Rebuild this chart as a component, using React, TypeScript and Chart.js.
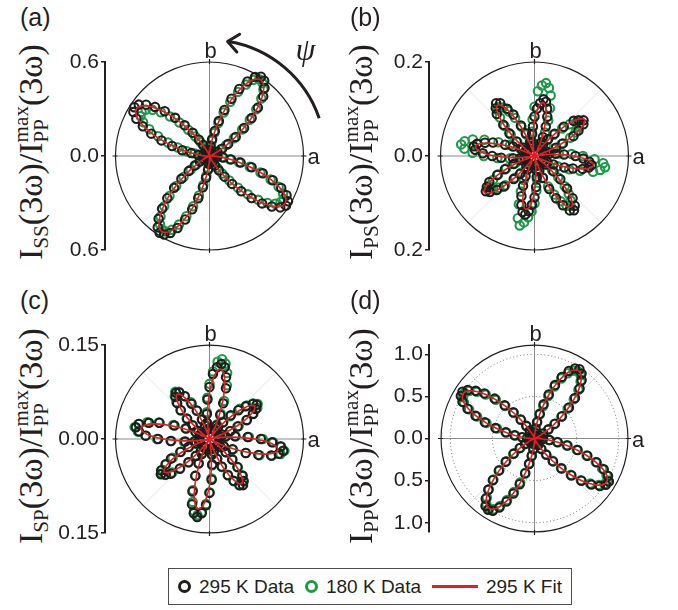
import React, { useEffect, useRef } from "react";
import { Chart, registerables } from "chart.js";
Chart.register(...registerables);

const INK = "#231f20";
const RED = "#e41e26";
const GREEN = "#1b9a48";
const BLACK = "#1d1d1b";
const SANS = '"Liberation Sans", Arial, Helvetica, sans-serif';
const SERIF = '"Liberation Serif", "Times New Roman", serif';

// polar angle psi in degrees, measured from a toward b
const ANGLES = [0,3,6,9,12,15,18,21,24,27,30,33,36,39,42,45,48,51,54,57,60,63,66,69,72,75,78,81,84,87,90,93,96,99,102,105,108,111,114,117,120,123,126,129,132,135,138,141,144,147,150,153,156,159,162,165,168,171,174,177,180,183,186,189,192,195,198,201,204,207,210,213,216,219,222,225,228,231,234,237,240,243,246,249,252,255,258,261,264,267,270,273,276,279,282,285,288,291,294,297,300,303,306,309,312,315,318,321,324,327,330,333,336,339,342,345,348,351,354,357];

// (a) I_SS
const FIT_SS = [0.021,0.008,0.002,0,0,0,0.002,0.008,0.022,0.046,0.084,0.136,0.201,0.276,0.356,0.432,0.499,0.550,0.579,0.584,0.563,0.519,0.456,0.382,0.303,0.226,0.157,0.100,0.057,0.028,0.012,0.003,0.001,0,0,0,0.001,0.005,0.015,0.035,0.066,0.111,0.169,0.238,0.312,0.387,0.454,0.508,0.543,0.555,0.543,0.508,0.454,0.387,0.312,0.238,0.169,0.111,0.066,0.035,0.015,0.005,0.001,0,0,0,0.001,0.003,0.011,0.028,0.056,0.097,0.153,0.220,0.295,0.372,0.444,0.505,0.548,0.569,0.564,0.536,0.487,0.421,0.346,0.269,0.196,0.133,0.082,0.045,0.021,0.008,0.002,0,0,0,0.001,0.003,0.011,0.028,0.056,0.097,0.153,0.220,0.295,0.372,0.444,0.505,0.548,0.569,0.564,0.536,0.487,0.421,0.346,0.269,0.196,0.133,0.082,0.045];
const D295_SS = [0.028,0.017,0.012,0.008,0.010,0.006,0.011,0.018,0.031,0.058,0.093,0.142,0.207,0.284,0.362,0.437,0.512,0.558,0.594,0.603,0.582,0.534,0.468,0.392,0.309,0.231,0.163,0.108,0.066,0.038,0.019,0.012,0.007,0.009,0.006,0.010,0.008,0.014,0.026,0.047,0.081,0.124,0.183,0.252,0.328,0.404,0.468,0.521,0.558,0.572,0.561,0.524,0.466,0.398,0.322,0.247,0.178,0.118,0.072,0.041,0.022,0.011,0.008,0.006,0.009,0.007,0.010,0.013,0.022,0.041,0.071,0.112,0.164,0.231,0.304,0.381,0.452,0.516,0.562,0.584,0.579,0.551,0.503,0.434,0.358,0.279,0.204,0.141,0.089,0.052,0.028,0.014,0.009,0.007,0.010,0.006,0.009,0.012,0.021,0.042,0.070,0.109,0.163,0.229,0.303,0.380,0.452,0.512,0.558,0.582,0.579,0.552,0.501,0.432,0.357,0.278,0.203,0.139,0.088,0.051];
const D180_SS = [0.022,0.013,0.006,0.004,0.007,0.009,0.006,0.012,0.024,0.049,0.082,0.128,0.193,0.268,0.346,0.422,0.494,0.547,0.576,0.584,0.561,0.512,0.448,0.371,0.292,0.218,0.151,0.098,0.058,0.031,0.014,0.008,0.005,0.007,0.009,0.006,0.008,0.011,0.019,0.036,0.066,0.104,0.154,0.216,0.287,0.356,0.418,0.468,0.503,0.517,0.508,0.476,0.421,0.352,0.279,0.210,0.148,0.097,0.058,0.031,0.014,0.008,0.004,0.006,0.008,0.007,0.006,0.009,0.016,0.032,0.059,0.098,0.149,0.213,0.286,0.361,0.432,0.497,0.538,0.558,0.556,0.528,0.479,0.412,0.338,0.261,0.189,0.128,0.080,0.043,0.021,0.010,0.006,0.004,0.007,0.008,0.006,0.010,0.015,0.031,0.054,0.089,0.139,0.201,0.272,0.346,0.418,0.476,0.518,0.541,0.546,0.527,0.483,0.418,0.342,0.266,0.192,0.130,0.082,0.045];

// (b) I_PS
const FIT_PS = [0.083,0.057,0.032,0.012,0.001,0.001,0.013,0.033,0.059,0.086,0.110,0.126,0.132,0.126,0.110,0.086,0.059,0.033,0.013,0.001,0.001,0.011,0.029,0.051,0.075,0.096,0.110,0.115,0.110,0.096,0.075,0.051,0.029,0.011,0.001,0.001,0.013,0.034,0.060,0.088,0.112,0.128,0.134,0.128,0.112,0.088,0.060,0.034,0.013,0.001,0.001,0.012,0.032,0.057,0.083,0.106,0.122,0.127,0.122,0.106,0.083,0.057,0.032,0.012,0.001,0.001,0.013,0.033,0.059,0.086,0.110,0.126,0.132,0.126,0.110,0.086,0.059,0.033,0.013,0.001,0.001,0.011,0.029,0.051,0.075,0.096,0.110,0.115,0.110,0.096,0.075,0.051,0.029,0.011,0.001,0.001,0.013,0.034,0.060,0.088,0.112,0.128,0.134,0.128,0.112,0.088,0.060,0.034,0.013,0.001,0.001,0.012,0.032,0.057,0.083,0.106,0.122,0.127,0.122,0.106];
const D295_PS = [0.087,0.063,0.045,0.031,0.022,0.019,0.028,0.049,0.066,0.093,0.108,0.124,0.129,0.121,0.112,0.088,0.064,0.046,0.031,0.022,0.021,0.032,0.044,0.067,0.088,0.104,0.118,0.122,0.113,0.101,0.084,0.063,0.047,0.029,0.020,0.023,0.031,0.052,0.071,0.099,0.116,0.134,0.139,0.131,0.120,0.094,0.072,0.049,0.030,0.021,0.019,0.030,0.050,0.067,0.093,0.109,0.125,0.131,0.127,0.110,0.090,0.071,0.046,0.031,0.020,0.022,0.030,0.048,0.069,0.089,0.111,0.121,0.128,0.122,0.108,0.092,0.066,0.049,0.029,0.021,0.022,0.031,0.047,0.068,0.090,0.108,0.122,0.126,0.118,0.104,0.088,0.066,0.045,0.031,0.020,0.021,0.033,0.050,0.077,0.101,0.121,0.138,0.143,0.136,0.121,0.098,0.074,0.052,0.031,0.022,0.020,0.030,0.044,0.068,0.086,0.106,0.118,0.123,0.117,0.104];
const D180_PS = [0.103,0.079,0.052,0.032,0.021,0.020,0.029,0.043,0.063,0.085,0.101,0.113,0.119,0.116,0.101,0.083,0.061,0.043,0.028,0.019,0.021,0.034,0.055,0.081,0.107,0.133,0.148,0.157,0.151,0.138,0.105,0.078,0.052,0.031,0.020,0.019,0.031,0.049,0.068,0.091,0.110,0.123,0.129,0.126,0.110,0.090,0.068,0.047,0.030,0.021,0.022,0.034,0.057,0.082,0.112,0.136,0.152,0.158,0.150,0.132,0.108,0.079,0.053,0.031,0.021,0.020,0.028,0.044,0.066,0.087,0.102,0.116,0.121,0.113,0.101,0.088,0.062,0.046,0.029,0.020,0.021,0.033,0.056,0.081,0.108,0.137,0.151,0.143,0.131,0.118,0.101,0.074,0.051,0.032,0.021,0.019,0.029,0.049,0.071,0.092,0.111,0.126,0.131,0.122,0.109,0.091,0.068,0.048,0.030,0.021,0.020,0.032,0.054,0.079,0.102,0.129,0.143,0.152,0.147,0.128];

// (c) I_SP
const FIT_SP = [0.073,0.050,0.028,0.011,0.001,0.001,0.009,0.022,0.040,0.058,0.074,0.085,0.089,0.085,0.074,0.058,0.040,0.022,0.009,0.001,0.001,0.011,0.028,0.051,0.074,0.094,0.108,0.113,0.108,0.094,0.074,0.051,0.028,0.011,0.001,0.001,0.008,0.022,0.039,0.058,0.073,0.084,0.088,0.084,0.073,0.058,0.039,0.022,0.008,0.001,0.001,0.011,0.028,0.050,0.073,0.093,0.106,0.111,0.106,0.093,0.073,0.050,0.028,0.011,0.001,0.001,0.009,0.022,0.040,0.058,0.074,0.085,0.089,0.085,0.074,0.058,0.040,0.022,0.009,0.001,0.001,0.011,0.028,0.051,0.074,0.094,0.108,0.113,0.108,0.094,0.074,0.051,0.028,0.011,0.001,0.001,0.008,0.022,0.039,0.058,0.073,0.084,0.088,0.084,0.073,0.058,0.039,0.022,0.008,0.001,0.001,0.011,0.028,0.050,0.073,0.093,0.106,0.111,0.106,0.093];
const D295_SP = [0.082,0.061,0.041,0.026,0.017,0.015,0.022,0.035,0.049,0.067,0.080,0.088,0.093,0.089,0.078,0.065,0.051,0.034,0.023,0.016,0.017,0.024,0.042,0.061,0.085,0.102,0.117,0.121,0.115,0.104,0.083,0.063,0.040,0.026,0.016,0.015,0.023,0.033,0.050,0.063,0.079,0.088,0.091,0.086,0.077,0.065,0.048,0.035,0.022,0.016,0.015,0.025,0.041,0.060,0.084,0.100,0.115,0.119,0.113,0.102,0.082,0.062,0.039,0.024,0.016,0.017,0.023,0.036,0.051,0.069,0.081,0.092,0.096,0.090,0.083,0.067,0.050,0.035,0.023,0.015,0.016,0.027,0.043,0.063,0.088,0.108,0.121,0.126,0.119,0.106,0.086,0.065,0.041,0.025,0.016,0.015,0.021,0.034,0.048,0.065,0.077,0.088,0.091,0.086,0.079,0.063,0.049,0.033,0.022,0.016,0.016,0.026,0.040,0.062,0.082,0.102,0.113,0.119,0.114,0.100];
const D180_SP = [0.085,0.063,0.042,0.025,0.016,0.017,0.022,0.036,0.051,0.066,0.081,0.091,0.095,0.090,0.080,0.068,0.049,0.035,0.021,0.016,0.016,0.026,0.044,0.065,0.090,0.109,0.123,0.129,0.124,0.108,0.088,0.066,0.043,0.026,0.016,0.016,0.022,0.034,0.049,0.066,0.079,0.090,0.093,0.088,0.079,0.065,0.049,0.034,0.022,0.015,0.016,0.025,0.042,0.062,0.085,0.103,0.116,0.121,0.115,0.102,0.084,0.061,0.041,0.025,0.017,0.016,0.022,0.035,0.050,0.066,0.080,0.090,0.094,0.091,0.080,0.066,0.050,0.034,0.022,0.016,0.016,0.025,0.042,0.063,0.086,0.104,0.118,0.123,0.117,0.104,0.085,0.063,0.042,0.025,0.016,0.016,0.022,0.034,0.049,0.064,0.078,0.087,0.090,0.087,0.078,0.064,0.049,0.034,0.022,0.016,0.016,0.025,0.041,0.062,0.084,0.103,0.116,0.121,0.115,0.102];

// (d) I_PP
const FIT_PP = [0.049,0.020,0.006,0.001,0,0,0.002,0.009,0.026,0.060,0.115,0.192,0.293,0.411,0.540,0.669,0.785,0.879,0.939,0.960,0.939,0.879,0.785,0.669,0.540,0.411,0.293,0.192,0.115,0.060,0.026,0.009,0.002,0,0,0,0.001,0.006,0.020,0.049,0.098,0.171,0.268,0.386,0.517,0.653,0.780,0.886,0.962,0.998,0.990,0.941,0.854,0.739,0.608,0.472,0.344,0.233,0.144,0.079,0.037,0.014,0.003,0,0,0,0.002,0.009,0.027,0.062,0.118,0.198,0.302,0.424,0.557,0.689,0.810,0.906,0.969,0.990,0.969,0.906,0.810,0.689,0.557,0.424,0.302,0.198,0.118,0.062,0.027,0.009,0.002,0,0,0,0,0.003,0.014,0.037,0.079,0.144,0.233,0.344,0.472,0.608,0.739,0.854,0.941,0.990,0.998,0.962,0.886,0.780,0.653,0.517,0.386,0.268,0.171,0.098];
const D295_PP = [0.06,0.03,0.02,0.02,0.02,0.02,0.02,0.02,0.04,0.07,0.12,0.20,0.30,0.42,0.55,0.68,0.80,0.89,0.95,0.98,0.96,0.90,0.80,0.68,0.55,0.42,0.30,0.20,0.12,0.07,0.04,0.02,0.02,0.02,0.02,0.02,0.02,0.02,0.03,0.06,0.11,0.18,0.28,0.40,0.53,0.67,0.80,0.90,0.98,1.02,1.01,0.96,0.87,0.75,0.62,0.48,0.35,0.24,0.15,0.09,0.05,0.03,0.02,0.02,0.02,0.02,0.02,0.02,0.04,0.07,0.13,0.21,0.31,0.44,0.57,0.70,0.82,0.92,0.99,1.01,0.99,0.92,0.82,0.70,0.57,0.43,0.31,0.21,0.13,0.07,0.04,0.02,0.02,0.02,0.02,0.02,0.02,0.02,0.03,0.05,0.09,0.15,0.24,0.35,0.48,0.62,0.75,0.87,0.96,1.01,1.02,0.98,0.90,0.79,0.66,0.53,0.40,0.28,0.18,0.10];
const D180_PP = [0.05,0.02,0.01,0.01,0.01,0.01,0.01,0.02,0.03,0.06,0.11,0.19,0.29,0.41,0.53,0.66,0.78,0.87,0.93,0.95,0.93,0.87,0.78,0.66,0.53,0.40,0.29,0.19,0.11,0.06,0.03,0.01,0.01,0.01,0.01,0.01,0.01,0.01,0.02,0.05,0.10,0.17,0.27,0.39,0.52,0.65,0.78,0.88,0.96,0.99,0.98,0.94,0.85,0.73,0.60,0.46,0.34,0.23,0.14,0.08,0.04,0.02,0.01,0.01,0.01,0.01,0.01,0.01,0.03,0.06,0.12,0.20,0.30,0.43,0.56,0.69,0.81,0.90,0.97,0.99,0.97,0.90,0.80,0.68,0.55,0.42,0.30,0.20,0.12,0.06,0.03,0.01,0.01,0.01,0.01,0.01,0.01,0.01,0.02,0.04,0.08,0.14,0.23,0.34,0.47,0.61,0.74,0.85,0.94,0.99,1.00,0.96,0.88,0.78,0.65,0.52,0.39,0.27,0.17,0.10];

const TICKS_SS = [-0.6, 0, 0.6];
const TICKS_PS = [-0.2, 0, 0.2];
const TICKS_SP = [-0.15, 0, 0.15];
const TICKS_PP = [-1, -0.5, 0, 0.5, 1];

const D = Math.PI / 180;

function polar(r: number[], close: boolean) {
  const pts = r.map((v, i) => ({ x: v * Math.cos(ANGLES[i] * D), y: v * Math.sin(ANGLES[i] * D) }));
  if (close) pts.push({ ...pts[0] });
  return pts;
}

type Cfg = {
  id: string; label: string; sub: string;
  left: number; top: number; w: number; h: number;
  yAxisW: number; padTop: number; padBottom: number; padRight: number;
  yMax: number; xMax: number; ticks: number[]; dec: number; outer: number; dotted: number[];
  fit: number[]; d295: number[]; d180: number[]; arrow: boolean;
  titleX: number; titleY: number; labelX: number; labelY: number;
};

const PANELS: Cfg[] = [
  { id: "a", label: "(a)", sub: "SS", left: 40, top: 30, w: 300, h: 240, yAxisW: 65, padTop: 32, padBottom: 20, padRight: 26,
    yMax: 0.6, xMax: 0.667, ticks: TICKS_SS, dec: 1, outer: 0.6, dotted: [], fit: FIT_SS, d295: D295_SS, d180: D180_SS, arrow: true,
    titleX: 32, titleY: 152, labelX: 20, labelY: 5 },
  { id: "b", label: "(b)", sub: "PS", left: 364, top: 30, w: 300, h: 240, yAxisW: 65, padTop: 32, padBottom: 20, padRight: 24,
    yMax: 0.2, xMax: 0.2245, ticks: TICKS_PS, dec: 1, outer: 0.2, dotted: [], fit: FIT_PS, d295: D295_PS, d180: D180_PS, arrow: false,
    titleX: 362, titleY: 152, labelX: 350, labelY: 5 },
  { id: "c", label: "(c)", sub: "SP", left: 40, top: 313, w: 300, h: 240, yAxisW: 65, padTop: 32, padBottom: 20, padRight: 26,
    yMax: 0.15, xMax: 0.1668, ticks: TICKS_SP, dec: 2, outer: 0.15, dotted: [], fit: FIT_SP, d295: D295_SP, d180: D180_SP, arrow: false,
    titleX: 32, titleY: 436, labelX: 20, labelY: 288 },
  { id: "d", label: "(d)", sub: "PP", left: 364, top: 313, w: 300, h: 240, yAxisW: 65, padTop: 32, padBottom: 21, padRight: 24,
    yMax: 1.11, xMax: 1.253, ticks: TICKS_PP, dec: 1, outer: 1.11, dotted: [0.5, 1.0], fit: FIT_PP, d295: D295_PP, d180: D180_PP, arrow: false,
    titleX: 362, titleY: 436, labelX: 350, labelY: 288 },
];

function Panel({ cfg }: { cfg: Cfg }) {
  const ref = useRef<HTMLCanvasElement>(null);
  useEffect(() => {
    const decor = {
      id: "decor" + cfg.id,
      beforeDatasetsDraw(chart: any) {
        const { ctx, scales } = chart;
        const x = scales.x, y = scales.y;
        const cx = x.getPixelForValue(0), cy = y.getPixelForValue(0);
        const R = x.getPixelForValue(cfg.outer) - cx;
        ctx.save();
        ctx.strokeStyle = "#e3e3e3";
        ctx.lineWidth = 1;
        for (const a of [45, 135]) {
          ctx.beginPath();
          ctx.moveTo(cx - R * Math.cos(a * D), cy + R * Math.sin(a * D));
          ctx.lineTo(cx + R * Math.cos(a * D), cy - R * Math.sin(a * D));
          ctx.stroke();
        }
        ctx.strokeStyle = "#6e6e6e";
        ctx.setLineDash([1, 2.5]);
        for (const rv of cfg.dotted) {
          const rr = x.getPixelForValue(rv) - cx;
          ctx.beginPath();
          ctx.arc(cx, cy, rr, 0, Math.PI * 2);
          ctx.stroke();
        }
        ctx.setLineDash([]);
        ctx.strokeStyle = "#8a8a8a";
        ctx.lineWidth = 1;
        ctx.beginPath();
        ctx.moveTo(cx - R, cy); ctx.lineTo(cx + R, cy);
        ctx.moveTo(cx, cy - R); ctx.lineTo(cx, cy + R);
        ctx.stroke();
        ctx.strokeStyle = INK;
        ctx.lineWidth = 1.2;
        ctx.beginPath();
        ctx.moveTo(cx - R - 3, cy); ctx.lineTo(cx - R + 2, cy);
        ctx.moveTo(cx + R - 2, cy); ctx.lineTo(cx + R + 3, cy);
        ctx.moveTo(cx, cy - R - 3); ctx.lineTo(cx, cy - R + 2);
        ctx.moveTo(cx, cy + R - 2); ctx.lineTo(cx, cy + R + 3);
        ctx.stroke();
        ctx.strokeStyle = INK;
        ctx.lineWidth = 1.2;
        ctx.beginPath();
        ctx.arc(cx, cy, R, 0, Math.PI * 2);
        ctx.stroke();
        ctx.restore();
      },
      afterDraw(chart: any) {
        const { ctx, scales } = chart;
        const x = scales.x, y = scales.y;
        const cx = x.getPixelForValue(0), cy = y.getPixelForValue(0);
        const R = x.getPixelForValue(cfg.outer) - cx;
        ctx.save();
        ctx.fillStyle = INK;
        ctx.font = `22px ${SANS}`;
        ctx.textAlign = "center";
        ctx.textBaseline = "alphabetic";
        ctx.fillText("b", cx + 1, cy - R - 4);
        ctx.textAlign = "left";
        ctx.fillText("a", cx + R + 4, cy + 8);
        if (cfg.arrow) {
          const Ra = 116;
          ctx.strokeStyle = INK;
          ctx.lineWidth = 3;
          ctx.beginPath();
          ctx.arc(cx, cy, Ra, -80.5 * D, -19 * D);
          ctx.stroke();
          const t = 81 * D;
          const tx = cx + Ra * Math.cos(t), ty = cy - Ra * Math.sin(t);
          const bx = Math.sin(t), by = Math.cos(t);
          const L = 14, ang = 40 * D;
          ctx.beginPath();
          for (const s of [1, -1]) {
            const c = Math.cos(s * ang), sn = Math.sin(s * ang);
            const hx = bx * c - by * sn, hy = bx * sn + by * c;
            ctx.moveTo(tx, ty);
            ctx.lineTo(tx + L * hx, ty + L * hy);
          }
          ctx.lineCap = "round";
          ctx.stroke();
          ctx.font = `italic 32px ${SERIF}`;
          ctx.textAlign = "center";
          ctx.textBaseline = "middle";
          ctx.fillText("\u03C8", cx + 96, cy - 104);
        }
        ctx.restore();
      },
    };

    const chart = new Chart(ref.current as HTMLCanvasElement, {
      type: "scatter",
      data: {
        datasets: [
          {
            label: "295 K Fit",
            data: polar(cfg.fit, true),
            showLine: true,
            borderColor: RED,
            borderWidth: 1.6,
            pointRadius: 0,
            tension: 0.25,
            fill: false,
            order: 0,
            clip: false,
          } as any,
          {
            label: "295 K Data",
            data: polar(cfg.d295, false),
            pointRadius: 4.2,
            pointBorderWidth: 2.1,
            pointBorderColor: BLACK,
            pointBackgroundColor: "rgba(0,0,0,0)",
            order: 1,
            clip: false,
          } as any,
          {
            label: "180 K Data",
            data: polar(cfg.d180, false),
            pointRadius: 4.2,
            pointBorderWidth: 2.1,
            pointBorderColor: GREEN,
            pointBackgroundColor: "rgba(0,0,0,0)",
            order: 2,
            clip: false,
          } as any,
        ],
      },
      options: {
        animation: false,
        responsive: false,
        maintainAspectRatio: false,
        events: [],
        layout: { padding: { top: cfg.padTop, bottom: cfg.padBottom, left: 0, right: cfg.padRight } },
        plugins: { legend: { display: false }, tooltip: { enabled: false } },
        scales: {
          x: { type: "linear", display: false, min: -cfg.xMax, max: cfg.xMax },
          y: {
            type: "linear",
            position: "left",
            min: -cfg.yMax,
            max: cfg.yMax,
            afterBuildTicks: (axis: any) => {
              axis.ticks = cfg.ticks.map((v) => ({ value: v }));
            },
            afterFit: (scale: any) => {
              scale.width = cfg.yAxisW;
            },
            ticks: {
              autoSkip: false,
              maxRotation: 0,
              padding: 2,
              color: INK,
              font: { family: SANS, size: 21 },
              callback: (v: any) => Math.abs(Number(v)).toFixed(cfg.dec),
            },
            grid: { display: true, drawOnChartArea: false, drawTicks: true, tickLength: 4, color: INK, lineWidth: 1.5 },
            border: { display: true, color: INK, width: 2 },
          },
        },
      },
      plugins: [decor],
    } as any);
    return () => chart.destroy();
  }, []);
  return (
    <canvas
      ref={ref}
      width={cfg.w}
      height={cfg.h}
      style={{ position: "absolute", left: cfg.left, top: cfg.top, width: cfg.w, height: cfg.h }}
    />
  );
}

function YTitle({ cfg }: { cfg: Cfg }) {
  return (
    <div
      style={{
        position: "absolute",
        left: cfg.titleX,
        top: cfg.titleY,
        transform: "translate(-50%, -50%) rotate(-90deg)",
        fontFamily: SERIF,
        fontSize: 34,
        lineHeight: 1,
        whiteSpace: "nowrap",
        color: INK,
      }}
    >
      I<span style={{ fontSize: "0.62em", verticalAlign: "-0.32em" }}>{cfg.sub}</span>(3ω)/I<span style={{ display: "inline-block", fontSize: "0.62em", lineHeight: 0.95, verticalAlign: "-0.32em" }}><span style={{ display: "block" }}>max</span><span style={{ display: "block" }}>PP</span></span>(3ω)
    </div>
  );
}

const legendItem: React.CSSProperties = { display: "flex", alignItems: "center", whiteSpace: "nowrap" };

export default function App() {
  return (
    <div style={{ position: "fixed", left: 0, top: 0, width: 678, height: 610, background: "#fff", overflow: "hidden" }}>
      {PANELS.map((p) => (
        <React.Fragment key={p.id}>
          <YTitle cfg={p} />
          <div style={{ position: "absolute", left: p.labelX, top: p.labelY, fontFamily: SANS, fontSize: 25, lineHeight: 1, color: INK }}>{p.label}</div>
          <Panel cfg={p} />
        </React.Fragment>
      ))}
      <div
        style={{
          position: "absolute",
          left: 168,
          top: 568,
          width: 404,
          height: 37,
          boxSizing: "border-box",
          border: "1.5px solid #4d4d4d",
          display: "flex",
          alignItems: "center",
          justifyContent: "space-between",
          padding: "0 9px 0 9px",
          fontFamily: SANS,
          fontSize: 19,
          color: INK,
        }}
      >
        <div style={legendItem}>
          <span style={{ width: 7, height: 7, border: `3px solid ${BLACK}`, borderRadius: "50%", marginRight: 8 }} />
          295 K Data
        </div>
        <div style={legendItem}>
          <span style={{ width: 7, height: 7, border: `3px solid ${GREEN}`, borderRadius: "50%", marginRight: 8 }} />
          180 K Data
        </div>
        <div style={legendItem}>
          <span style={{ width: 46, height: 2.5, background: RED, marginRight: 8 }} />
          295 K Fit
        </div>
      </div>
    </div>
  );
}
